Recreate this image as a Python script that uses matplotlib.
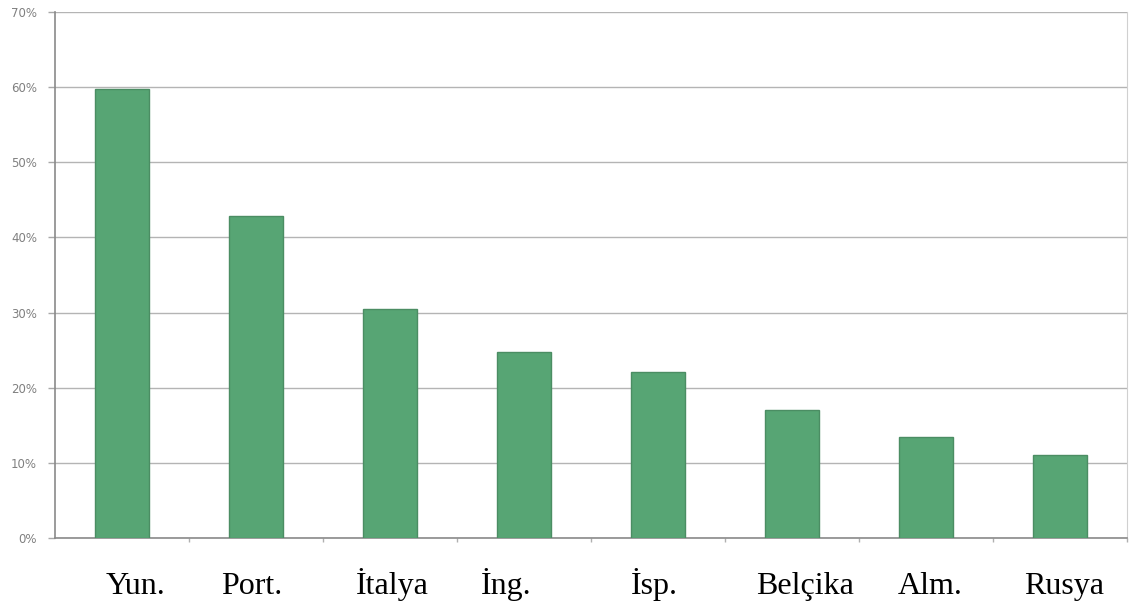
import matplotlib.pyplot as plt
import matplotlib.transforms as mtransforms
import numpy as np

# veriler
ulkeler = ["Yun.", "Port.", "İtalya", "İng.", "İsp.", "Belçika", "Alm.", "Rusya"]
oranlar = [59.8, 42.9, 30.5, 24.8, 22.1, 17.0, 13.4, 11.1]
y_etiketler = ["0%", "10%", "20%", "30%", "40%", "50%", "60%", "70%"]

# etiketlerin kutu merkezine göre kayması (orijinalde elle yerleştirilmiş)
etiket_kayma = [0.10, -0.03, 0.015, -0.13, -0.03, 0.10, 0.03, 0.03]

fig = plt.figure(figsize=(11.34, 6.06), dpi=100)
ax = fig.add_axes([55 / 1134, 68 / 606, 1072 / 1134, 526 / 606])

x = np.arange(len(ulkeler))
ax.bar(x, oranlar, width=0.4, color="#57a574", edgecolor="#4b8d63", linewidth=1.0, zorder=3)

ax.set_xlim(-0.5, len(ulkeler) - 0.5)
ax.set_ylim(0, 70)
ax.set_yticks(np.arange(0, 71, 10))
ax.set_yticklabels(y_etiketler, fontsize=8.5, color="#808080")
ax.yaxis.grid(True, color="#b4b4b4", linewidth=1.0, zorder=0)
ax.tick_params(axis="y", length=5, width=1, color="#a8a8a8", pad=8)

# kategori sınırlarında küçük çentikler
ax.set_xticks(x + 0.5, minor=True)
ax.set_xticks([])
ax.tick_params(axis="x", which="minor", length=3, width=1, color="#b0b0b0")

for s in ["left", "bottom"]:
    ax.spines[s].set_color("#8a8a8a")
    ax.spines[s].set_linewidth(1.2)
ax.spines["right"].set_color("#d0d0d0")
ax.spines["right"].set_linewidth(0.8)
ax.spines["top"].set_visible(False)

trans = mtransforms.blended_transform_factory(ax.transData, ax.transAxes)
for i, ad in enumerate(ulkeler):
    ax.text(i + etiket_kayma[i], -0.106, ad, transform=trans, ha="center", va="baseline",
            fontsize=23, family=["Liberation Serif", "DejaVu Serif"], color="black")

fig.savefig("out.png", dpi=100)
